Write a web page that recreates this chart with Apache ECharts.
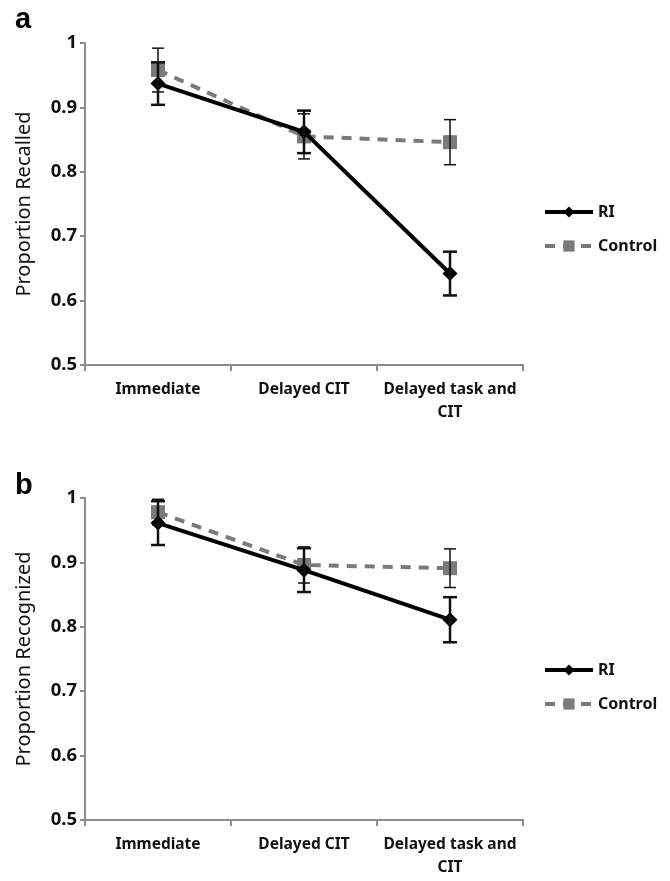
<!DOCTYPE html>
<html>
<head>
<meta charset="utf-8">
<script src="https://cdn.jsdelivr.net/npm/echarts@6/dist/echarts.min.js"></script>
<style>
  html, body { margin: 0; padding: 0; background: #fff; }
  #chart { width: 670px; height: 881px; }
</style>
</head>
<body>
<div id="chart"></div>
<script>
(function () {
    // data
    var categories = ['Immediate', 'Delayed CIT', 'Delayed task and\nCIT'];
    var yTicks = { min: 0.5, max: 1, step: 0.1 };

    // panel a - recall
    var recallRI = [0.937, 0.862, 0.642];
    var recallRIErr = [0.033, 0.033, 0.034];
    var recallControl = [0.958, 0.855, 0.846];
    var recallControlErr = [0.034, 0.035, 0.035];

    // panel b - recognition
    var recogRI = [0.961, 0.888, 0.811];
    var recogRIErr = [0.034, 0.034, 0.035];
    var recogControl = [0.978, 0.896, 0.891];
    var recogControlErr = [0.020, 0.028, 0.030];

    var myChart = echarts.init(document.getElementById('chart'));

    var font = '"Noto Sans", "Open Sans", sans-serif';
    var axisGrey = '#8c8c8c';

    function errData(vals, errs) {
        return vals.map(function (v, i) { return [i, v, errs[i]]; });
    }

    // error bars drawn with the axes' own coord()
    function errBar(capHalf, width) {
        return function (params, api) {
            var x = api.value(0), v = api.value(1), e = api.value(2);
            var hi = api.coord([x, v + e]);
            var lo = api.coord([x, v - e]);
            var style = { stroke: '#111', lineWidth: width };
            return {
                type: 'group',
                children: [
                    { type: 'line', shape: { x1: hi[0], y1: hi[1], x2: lo[0], y2: lo[1] }, style: style },
                    { type: 'line', shape: { x1: hi[0] - capHalf, y1: hi[1], x2: hi[0] + capHalf, y2: hi[1] }, style: style },
                    { type: 'line', shape: { x1: lo[0] - capHalf, y1: lo[1], x2: lo[0] + capHalf, y2: lo[1] }, style: style }
                ]
            };
        };
    }

    function xAxis(idx) {
        return {
            type: 'category',
            gridIndex: idx,
            data: categories,
            boundaryGap: true,
            axisLine: { lineStyle: { color: axisGrey, width: 2 } },
            axisTick: { show: true, alignWithLabel: false, length: 6, lineStyle: { color: axisGrey, width: 2 } },
            axisLabel: {
                color: '#111', fontFamily: font, fontWeight: 'bold', fontSize: 15.5,
                lineHeight: 23, margin: 13, interval: 0
            }
        };
    }

    function yAxis(idx, name) {
        return {
            type: 'value',
            gridIndex: idx,
            min: yTicks.min,
            max: yTicks.max,
            interval: yTicks.step,
            name: name,
            nameLocation: 'middle',
            nameGap: 51,
            nameTextStyle: { color: '#111', fontFamily: font, fontSize: 20 },
            axisLine: { show: true, lineStyle: { color: axisGrey, width: 2 } },
            axisTick: { show: true, length: 5, lineStyle: { color: axisGrey, width: 2 } },
            splitLine: { show: false },
            axisLabel: { color: '#111', fontFamily: font, fontWeight: 'bold', fontSize: 18.5, margin: 8 }
        };
    }

    function riSeries(idx, vals) {
        return {
            name: 'RI', type: 'line', xAxisIndex: idx, yAxisIndex: idx,
            data: vals, z: 4,
            symbol: 'diamond', symbolSize: 15,
            itemStyle: { color: '#000' },
            lineStyle: { color: '#000', width: 4 }
        };
    }

    function controlSeries(idx, vals) {
        return {
            name: 'Control', type: 'line', xAxisIndex: idx, yAxisIndex: idx,
            data: vals, z: 3,
            symbol: 'rect', symbolSize: 14,
            itemStyle: { color: '#7a7a7a' },
            lineStyle: { color: '#7a7a7a', width: 4, type: [10, 8] }
        };
    }

    function errSeries(idx, vals, errs, cap, w) {
        return {
            type: 'custom', xAxisIndex: idx, yAxisIndex: idx, z: 5,
            renderItem: errBar(cap, w),
            data: errData(vals, errs),
            silent: true
        };
    }

    function legend(top) {
        return {
            orient: 'vertical', left: 538, top: top,
            itemWidth: 48, itemHeight: 14, itemGap: 18,
            data: ['RI', 'Control'],
            lineStyle: { width: 4 },
            textStyle: { color: '#111', fontFamily: font, fontWeight: 'bold', fontSize: 16 }
        };
    }

    var option = {
        animation: false,
        title: [
            { text: 'a', left: 10, top: 0, textStyle: { fontFamily: 'Liberation Sans', fontWeight: 'bold', fontSize: 29, color: '#000' } },
            { text: 'b', left: 10, top: 466, textStyle: { fontFamily: 'Liberation Sans', fontWeight: 'bold', fontSize: 29, color: '#000' } }
        ],
        legend: [legend(199), legend(657)],
        grid: [
            { left: 85, top: 43, width: 438, height: 322 },
            { left: 85, top: 498, width: 438, height: 322 }
        ],
        xAxis: [xAxis(0), xAxis(1)],
        yAxis: [yAxis(0, 'Proportion Recalled'), yAxis(1, 'Proportion Recognized')],
        series: [
            riSeries(0, recallRI),
            controlSeries(0, recallControl),
            errSeries(0, recallRI, recallRIErr, 7, 2.5),
            errSeries(0, recallControl, recallControlErr, 6, 1.5),
            riSeries(1, recogRI),
            controlSeries(1, recogControl),
            errSeries(1, recogRI, recogRIErr, 7, 2.5),
            errSeries(1, recogControl, recogControlErr, 6, 1.5)
        ]
    };

    myChart.setOption(option);

    window.addEventListener('resize', function () {
        myChart.resize();
    });
})();
</script>
</body>
</html>
